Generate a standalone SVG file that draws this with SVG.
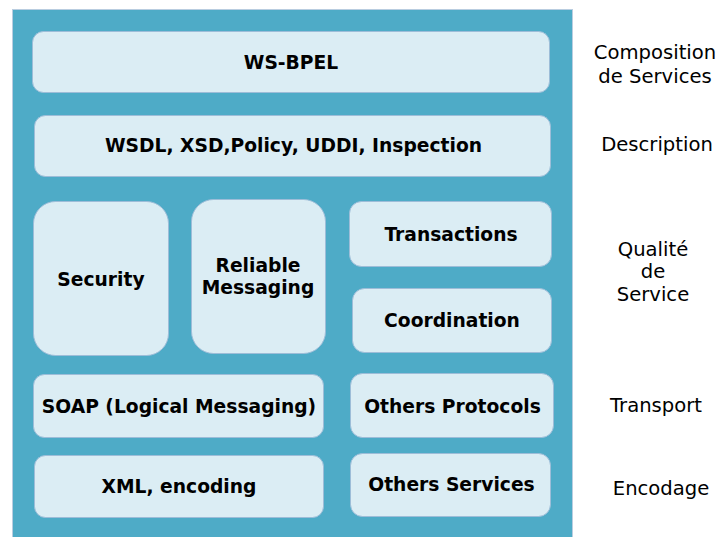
<svg xmlns="http://www.w3.org/2000/svg" width="717" height="537" viewBox="0 0 717 537">
<style>
.bg{fill:#4eabc7;stroke:#b9cde0;stroke-width:1}
.box{fill:#dbedf4;stroke:#9dbdd8;stroke-width:1}
.t{font-family:"DejaVu Sans","Verdana",sans-serif;font-weight:bold;font-size:18.7px;fill:#000;text-anchor:middle}
.l{font-family:"DejaVu Sans","Verdana",sans-serif;font-size:19.6px;fill:#000;text-anchor:middle}
</style>
<rect width="717" height="537" fill="#ffffff"/>
<rect class="bg" x="12.5" y="9.5" width="560" height="530"/>
<g id="ws-bpel"><rect class="box" x="32.5" y="31.5" width="517" height="61" rx="11"/><text class="t" x="291" y="69">WS-BPEL</text></g>
<g id="wsdl"><rect class="box" x="34.5" y="115.5" width="516" height="61" rx="11"/><text class="t" x="293.5" y="152">WSDL, XSD,Policy, UDDI, Inspection</text></g>
<g id="security"><rect class="box" x="33.5" y="201.5" width="135" height="154" rx="22"/><text class="t" x="101" y="286">Security</text></g>
<g id="reliable"><rect class="box" x="191.5" y="199.5" width="134" height="154" rx="22"/><text class="t" x="258" y="272">Reliable</text><text class="t" x="258" y="294">Messaging</text></g>
<g id="transactions"><rect class="box" x="349.5" y="201.5" width="202" height="65" rx="12"/><text class="t" x="451" y="241">Transactions</text></g>
<g id="coordination"><rect class="box" x="352.5" y="288.5" width="199" height="64" rx="12"/><text class="t" x="452" y="327">Coordination</text></g>
<g id="soap"><rect class="box" x="33.5" y="374.5" width="290" height="63" rx="11"/><text class="t" x="179" y="413">SOAP (Logical Messaging)</text></g>
<g id="xml"><rect class="box" x="34.5" y="455.5" width="289" height="62" rx="11"/><text class="t" x="179" y="493">XML, encoding</text></g>
<g id="others-protocols"><rect class="box" x="350.5" y="373.5" width="203" height="64" rx="12"/><text class="t" x="452.5" y="413">Others Protocols</text></g>
<g id="others-services"><rect class="box" x="350.5" y="453.5" width="200" height="63" rx="12"/><text class="t" x="451.5" y="491">Others Services</text></g>
<g id="connectors"></g>
<g id="labels">
<text class="l" x="655" y="59">Composition</text>
<text class="l" x="655" y="83">de Services</text>
<text class="l" x="657" y="151">Description</text>
<text class="l" x="653" y="256">Qualité</text>
<text class="l" x="653" y="278">de</text>
<text class="l" x="653" y="301">Service</text>
<text class="l" x="656" y="412">Transport</text>
<text class="l" x="661" y="495">Encodage</text>
</g>
</svg>
